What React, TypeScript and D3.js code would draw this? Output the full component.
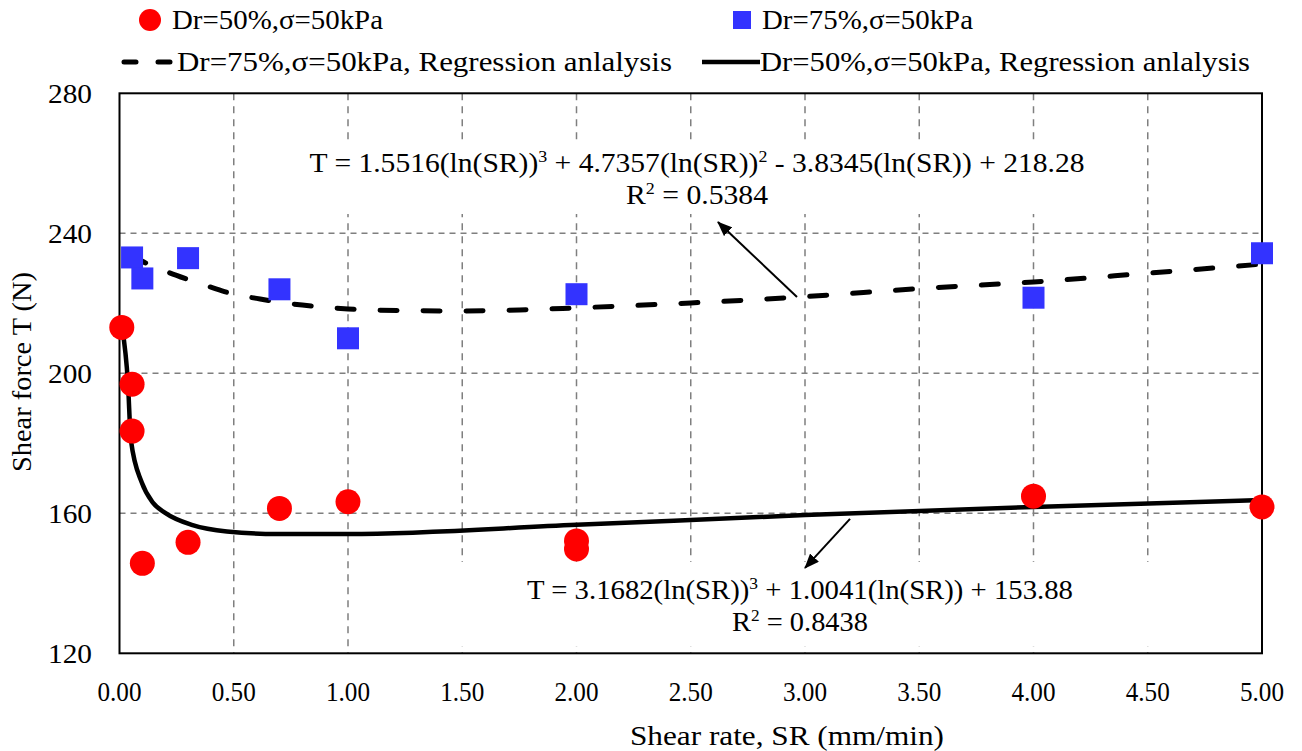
import React from 'react';
import * as d3 from 'd3';

// ---- data ----
const xTickValues = [0, 0.5, 1, 1.5, 2, 2.5, 3, 3.5, 4, 4.5, 5];
const yTickValues = [120, 160, 200, 240, 280];
const xGridValues = [0.5, 1, 1.5, 2, 2.5, 3, 3.5, 4, 4.5];
const yGridValues = [160, 200, 240];

const dr50X = [0.01, 0.055, 0.055, 0.1, 0.3, 0.7, 1.0, 2.0, 2.0, 4.0, 5.0];
const dr50Y = [213.1, 196.9, 183.5, 145.7, 151.7, 161.4, 163.3, 152.1, 149.8, 164.9, 161.8];

const dr75X = [0.055, 0.1, 0.3, 0.7, 1.0, 2.0, 4.0, 5.0];
const dr75Y = [233.1, 227.1, 232.9, 224.0, 210.0, 222.6, 221.6, 234.3];

const fit50X = [0.012, 0.037, 0.05, 0.098, 0.147, 0.2, 0.32, 0.47, 0.69, 1.0, 2.0, 3.0, 4.0, 5.0];
const fit50Y = [212.9, 197.2, 180.9, 168.7, 163.0, 160.1, 156.6, 154.8, 154.1, 154.1, 156.7, 159.5, 161.8, 163.8];

const fit75X = [0.05, 0.1, 0.2, 0.3, 0.4, 0.5, 0.6, 0.7, 0.8, 1.0, 1.25, 1.5, 1.75, 2.0, 2.5, 3.0, 3.5, 4.0, 4.5, 5.0];
const fit75Y = [234.0, 232.0, 229.2, 226.8, 224.6, 222.6, 221.4, 220.3, 219.5, 218.4, 217.9, 217.8, 218.1, 218.7, 220.1, 221.9, 224.2, 226.1, 228.6, 231.2];

const legendLabels = [
  'Dr=50%,σ=50kPa',
  'Dr=75%,σ=50kPa',
  'Dr=75%,σ=50kPa, Regression anlalysis',
  'Dr=50%,σ=50kPa, Regression anlalysis',
];

const xTitle = 'Shear rate, SR (mm/min)';
const yTitle = 'Shear force T (N)';

// equation text segments: [text, isSuperscript]
const eq75: [string, boolean][] = [
  ['T = 1.5516(ln(SR))', false],
  ['3', true],
  [' + 4.7357(ln(SR))', false],
  ['2', true],
  [' - 3.8345(ln(SR)) + 218.28', false],
];
const r75: [string, boolean][] = [
  ['R', false],
  ['2', true],
  [' = 0.5384', false],
];
const eq50: [string, boolean][] = [
  ['T = 3.1682(ln(SR))', false],
  ['3', true],
  [' + 1.0041(ln(SR)) + 153.88', false],
];
const r50: [string, boolean][] = [
  ['R', false],
  ['2', true],
  [' = 0.8438', false],
];

// annotation arrows: [tailX, tailY, headX, headY] in data units
const arrow75 = [2.965, 221.8, 2.619, 243.2];
const arrow50 = [3.197, 158.4, 3.0, 144.4];

const FONT = "'Liberation Serif', 'Times New Roman', serif";
const RED = '#ff0000';
const BLUE = '#3333ff';
const FS = 28;

function RichText(props: { x: number; y: number; len: number; segs: [string, boolean][] }) {
  const { x, y, len, segs } = props;
  let raised = false;
  return (
    <text
      x={x}
      y={y}
      textAnchor="middle"
      fontSize={FS}
      fill="#000"
      textLength={len}
      lengthAdjust="spacingAndGlyphs"
      style={{ whiteSpace: 'pre' }}
    >
      {segs.map(([t, s], i) => {
        let dy = 0;
        if (s && !raised) {
          dy = -10;
          raised = true;
        } else if (!s && raised) {
          dy = 10;
          raised = false;
        }
        return (
          <tspan key={i} dy={dy} fontSize={s ? 17 : FS}>
            {t}
          </tspan>
        );
      })}
    </text>
  );
}

export default function App() {
  const x = d3.scaleLinear().domain([0, 5]).range([119.5, 1262]);
  const y = d3.scaleLinear().domain([120, 280]).range([653.3, 93.3]);

  const smooth = d3
    .line<[number, number]>()
    .x((d) => x(d[0]))
    .y((d) => y(d[1]))
    .curve(d3.curveMonotoneX);

  const fit50 = fit50X.map((v, i) => [v, fit50Y[i]] as [number, number]);
  const fit75 = fit75X.map((v, i) => [v, fit75Y[i]] as [number, number]);

  const [x0, x1] = x.range();
  const [y0, y1] = y.range();

  return (
    <svg
      width={1302}
      height={751}
      style={{ position: 'absolute', left: 0, top: 0, background: '#fff' }}
      fontFamily={FONT}
    >
      <defs>
        <marker
          id="ah"
          markerUnits="userSpaceOnUse"
          markerWidth={16}
          markerHeight={12}
          refX={14}
          refY={6}
          orient="auto"
        >
          <path d="M0,0 L15,6 L0,12 Z" fill="#000" />
        </marker>
      </defs>
      <rect x={0} y={0} width={1302} height={751} fill="#fff" />

      {/* grid */}
      {xGridValues.map((v) => (
        <line
          key={'gx' + v}
          x1={x(v)}
          x2={x(v)}
          y1={y1}
          y2={y0}
          stroke="#7f7f7f"
          strokeWidth={1.5}
          strokeDasharray="7 6"
        />
      ))}
      {yGridValues.map((v) => (
        <line
          key={'gy' + v}
          x1={x0}
          x2={x1}
          y1={y(v)}
          y2={y(v)}
          stroke="#7f7f7f"
          strokeWidth={1.5}
          strokeDasharray="6 5"
        />
      ))}

      {/* equation backgrounds */}
      <rect x={300} y={143} width={795} height={71} fill="#fff" />
      <rect x={452} y={562} width={700} height={84} fill="#fff" />

      {/* plot frame */}
      <rect x={x0} y={y1} width={x1 - x0} height={y0 - y1} fill="none" stroke="#000" strokeWidth={2} />

      {/* regression lines */}
      <path
        d={smooth(fit75) || ''}
        fill="none"
        stroke="#000"
        strokeWidth={5}
        strokeDasharray="17 26"
        strokeLinecap="round"
      />
      <path d={smooth(fit50) || ''} fill="none" stroke="#000" strokeWidth={4.5} strokeLinejoin="round" />

      {/* markers */}
      {dr75X.map((v, i) => (
        <rect key={'b' + i} x={x(v) - 11} y={y(dr75Y[i]) - 11} width={22} height={22} fill={BLUE} />
      ))}
      {dr50X.map((v, i) => (
        <circle key={'r' + i} cx={x(v)} cy={y(dr50Y[i])} r={12.5} fill={RED} />
      ))}

      {/* arrows */}
      <line
        x1={x(arrow75[0])}
        y1={y(arrow75[1])}
        x2={x(arrow75[2])}
        y2={y(arrow75[3])}
        stroke="#000"
        strokeWidth={2}
        markerEnd="url(#ah)"
      />
      <line
        x1={x(arrow50[0])}
        y1={y(arrow50[1])}
        x2={x(arrow50[2])}
        y2={y(arrow50[3])}
        stroke="#000"
        strokeWidth={2}
        markerEnd="url(#ah)"
      />

      {/* equations */}
      <RichText x={697} y={172} len={775} segs={eq75} />
      <RichText x={697} y={204} len={142} segs={r75} />
      <RichText x={800} y={599} len={546} segs={eq50} />
      <RichText x={800} y={631} len={136} segs={r50} />

      {/* tick labels */}
      {yTickValues.map((v) => (
        <text
          key={'yt' + v}
          x={92}
          y={y(v)}
          dy="0.34em"
          textAnchor="end"
          fontSize={FS}
          fill="#000"
          textLength={44}
          lengthAdjust="spacingAndGlyphs"
        >
          {v}
        </text>
      ))}
      {xTickValues.map((v) => (
        <text
          key={'xt' + v}
          x={x(v)}
          y={701}
          textAnchor="middle"
          fontSize={FS}
          fill="#000"
          textLength={44}
          lengthAdjust="spacingAndGlyphs"
        >
          {d3.format('.2f')(v)}
        </text>
      ))}

      {/* axis titles */}
      <text
        x={787}
        y={745}
        textAnchor="middle"
        fontSize={FS}
        fill="#000"
        textLength={314}
        lengthAdjust="spacingAndGlyphs"
      >
        {xTitle}
      </text>
      <text
        transform="translate(31,372) rotate(-90)"
        textAnchor="middle"
        fontSize={FS}
        fill="#000"
        textLength={200}
        lengthAdjust="spacingAndGlyphs"
      >
        {yTitle}
      </text>

      {/* legend */}
      <circle cx={150} cy={20} r={11} fill={RED} />
      <text x={172} y={29} fontSize={FS} fill="#000" textLength={211} lengthAdjust="spacingAndGlyphs">
        {legendLabels[0]}
      </text>
      <rect x={733} y={11} width={18} height={18} fill={BLUE} />
      <text x={762} y={29} fontSize={FS} fill="#000" textLength={211} lengthAdjust="spacingAndGlyphs">
        {legendLabels[1]}
      </text>
      <line
        x1={124}
        x2={176}
        y1={62}
        y2={62}
        stroke="#000"
        strokeWidth={5}
        strokeLinecap="round"
        strokeDasharray="12 22"
      />
      <text x={177} y={71} fontSize={FS} fill="#000" textLength={495} lengthAdjust="spacingAndGlyphs">
        {legendLabels[2]}
      </text>
      <line x1={702} x2={760} y1={62} y2={62} stroke="#000" strokeWidth={4.5} />
      <text x={760} y={71} fontSize={FS} fill="#000" textLength={490} lengthAdjust="spacingAndGlyphs">
        {legendLabels[3]}
      </text>
    </svg>
  );
}
